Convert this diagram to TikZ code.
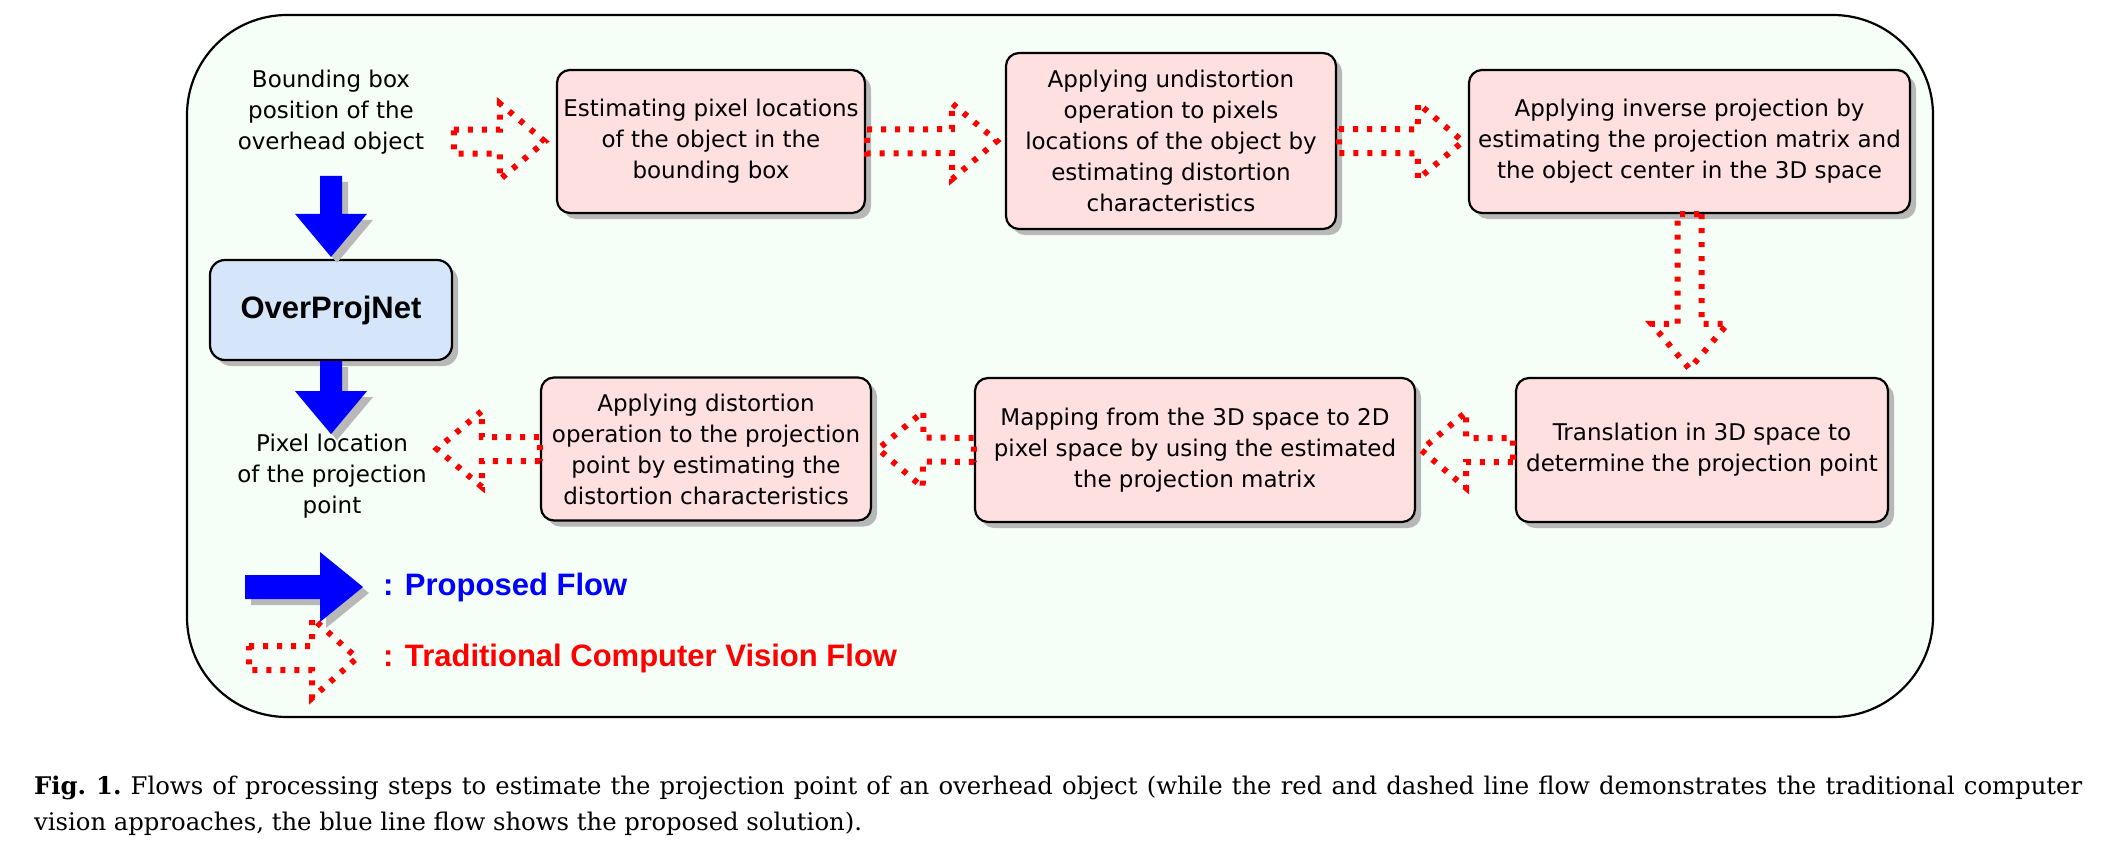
\documentclass[tikz,border=0pt]{standalone}
\usepackage{fontspec}
\setmainfont{DejaVu Sans}
\newfontfamily\headfont{Liberation Sans}
\newfontfamily\capfont{DejaVu Serif}
\usetikzlibrary{calc,shadows}

\definecolor{framebg}{RGB}{246,255,247}
\definecolor{stepfill}{RGB}{255,224,224}
\definecolor{netfill}{RGB}{214,230,250}
\definecolor{flowblue}{RGB}{0,0,255}
\definecolor{flowred}{RGB}{255,0,0}

\tikzset{
  flow shaft/.store in=\flowshaft, flow head/.store in=\flowhead, flow tip/.store in=\flowtip,
  flow shaft=12pt, flow head=38pt, flow tip=45pt,
  boxshadow/.style={drop shadow={shadow xshift=6pt, shadow yshift=-6pt, fill=black!28, opacity=1}},
  stepbox/.style={draw=black, line width=2.2pt, fill=stepfill, rounded corners=13pt,
    align=center, inner sep=0pt, boxshadow, font=\fontsize{23pt}{31pt}\selectfont},
  netbox/.style={stepbox, fill=netfill, rounded corners=15pt,
    font=\headfont\bfseries\fontsize{31pt}{36pt}\selectfont},
  plaintext/.style={align=center, inner sep=0pt, font=\fontsize{23pt}{31pt}\selectfont},
  legendtext/.style={anchor=west, inner sep=0pt, font=\headfont\bfseries\fontsize{31pt}{36pt}\selectfont},
  redflow/.style={draw=flowred, line width=6pt, dash pattern=on 5pt off 9pt,
    flow shaft=12pt, flow head=38pt, flow tip=45pt},
  blueflow/.style={fill=flowblue, draw=none, boxshadow,
    flow shaft=11pt, flow head=36pt, flow tip=43pt},
}

% block arrow from #2 to #3
\newcommand\flowarrow[3][redflow]{%
  \draw[#1] ($(#2)!\flowshaft!90:(#3)$)
    -- ($(#3)!\flowtip!(#2)!\flowshaft!-90:(#2)$)
    -- ($(#3)!\flowtip!(#2)!\flowhead!-90:(#2)$)
    -- (#3)
    -- ($(#3)!\flowtip!(#2)!\flowhead!90:(#2)$)
    -- ($(#3)!\flowtip!(#2)!\flowshaft!90:(#2)$)
    -- ($(#2)!\flowshaft!-90:(#3)$) -- cycle;}

\begin{document}
\begin{tikzpicture}[x=1pt, y=-1pt]
    \useasboundingbox (0,0) rectangle (2118,844);

    % Frame
    \draw[line width=2.2pt, fill=framebg, rounded corners=100pt] (187,15) rectangle (1933,717);

    % Input and output
    \node[plaintext] (bb) at (331,112) {Bounding box\\position of the\\overhead object};
    \node[plaintext] (px) at (332,476) {Pixel location\\of the projection\\point};

    % Proposed network
    \node[netbox, minimum width=242pt, minimum height=100pt] (net) at (331,310) {OverProjNet};

    % Traditional steps, top row
    \node[stepbox, minimum width=308pt, minimum height=143pt] (b1) at (711,141.5)
        {Estimating pixel locations\\of the object in the\\bounding box};
    \node[stepbox, minimum width=330pt, minimum height=176pt] (b2) at (1171,141)
        {Applying undistortion\\operation to pixels\\locations of the object by\\estimating distortion\\characteristics};
    \node[stepbox, minimum width=441pt, minimum height=143pt] (b3) at (1689.5,141.5)
        {Applying inverse projection by\\estimating the projection matrix and\\the object center in the 3D space};

    % Traditional steps, bottom row
    \node[stepbox, minimum width=372pt, minimum height=144pt] (b6) at (1702,450)
        {Translation in 3D space to\\determine the projection point};
    \node[stepbox, minimum width=440pt, minimum height=144pt] (b5) at (1195,450)
        {Mapping from the 3D space to 2D\\pixel space by using the estimated\\the projection matrix};
    \node[stepbox, minimum width=330pt, minimum height=143pt] (b4) at (706,449)
        {Applying distortion\\operation to the projection\\point by estimating the\\distortion characteristics};

    % Legend
    \node[legendtext, text=flowblue] (lgb) at (383,587) {: Proposed Flow};
    \node[legendtext, text=flowred] (lgr) at (383,658) {: Traditional Computer Vision Flow};

    % Arrow ends
    \coordinate (r1s) at ([xshift=-102pt]b1.west);
    \coordinate (r1e) at ([xshift=-11pt]b1.west);
    \coordinate (r2s) at ([xshift=1pt]b1.east);
    \coordinate (r2e) at ([xshift=-8pt]b2.west);
    \coordinate (r3s) at ([xshift=2pt]b2.east);
    \coordinate (r3e) at ([xshift=-5pt]b3.west);
    \coordinate (r4e) at ($(b3.south |- b6.north)+(0,-8)$);
    \coordinate (r5s) at ([xshift=-2pt]b6.west);
    \coordinate (r5e) at ([xshift=5pt]b5.east);
    \coordinate (r6e) at ([xshift=6pt]b4.east);
    \coordinate (r7e) at ([xshift=-103pt]b4.west);
    \coordinate (u1s) at ([yshift=83pt]net.north);
    \coordinate (u1e) at ([yshift=2pt]net.north);
    \coordinate (u2e) at ([yshift=-73pt]net.south);
    \coordinate (l1s) at ([xshift=-138pt]lgb.west);
    \coordinate (l1e) at ([xshift=-20pt]lgb.west);
    \coordinate (l2s) at ([xshift=-134pt]lgr.west);
    \coordinate (l2e) at ([xshift=-26pt]lgr.west);

    % Proposed flow
    \flowarrow[blueflow]{u1s}{u1e}
    \flowarrow[blueflow]{net.south}{u2e}

    % Traditional flow
    \flowarrow{r1s}{r1e}
    \flowarrow{r2s}{r2e}
    \flowarrow{r3s}{r3e}
    \flowarrow{b3.south}{r4e}
    \flowarrow{r5s}{r5e}
    \flowarrow{b5.west}{r6e}
    \flowarrow{b4.west}{r7e}

    % Legend arrows
    \flowarrow[blueflow, flow shaft=12pt, flow head=35pt]{l1s}{l1e}
    \flowarrow[redflow, flow head=40pt]{l2s}{l2e}

    % Caption
    \node[anchor=north west, inner sep=0pt, text width=2048pt, align=justify,
        font=\capfont\fontsize{24.3pt}{36pt}\selectfont\frenchspacing] (cap) at (34,776)
        {\textbf{Fig. 1.} Flows of processing steps to estimate the projection point of an overhead object (while the red and dashed line flow demonstrates the traditional computer\linebreak
        vision approaches, the blue line flow shows the proposed solution).};
\end{tikzpicture}
\end{document}
